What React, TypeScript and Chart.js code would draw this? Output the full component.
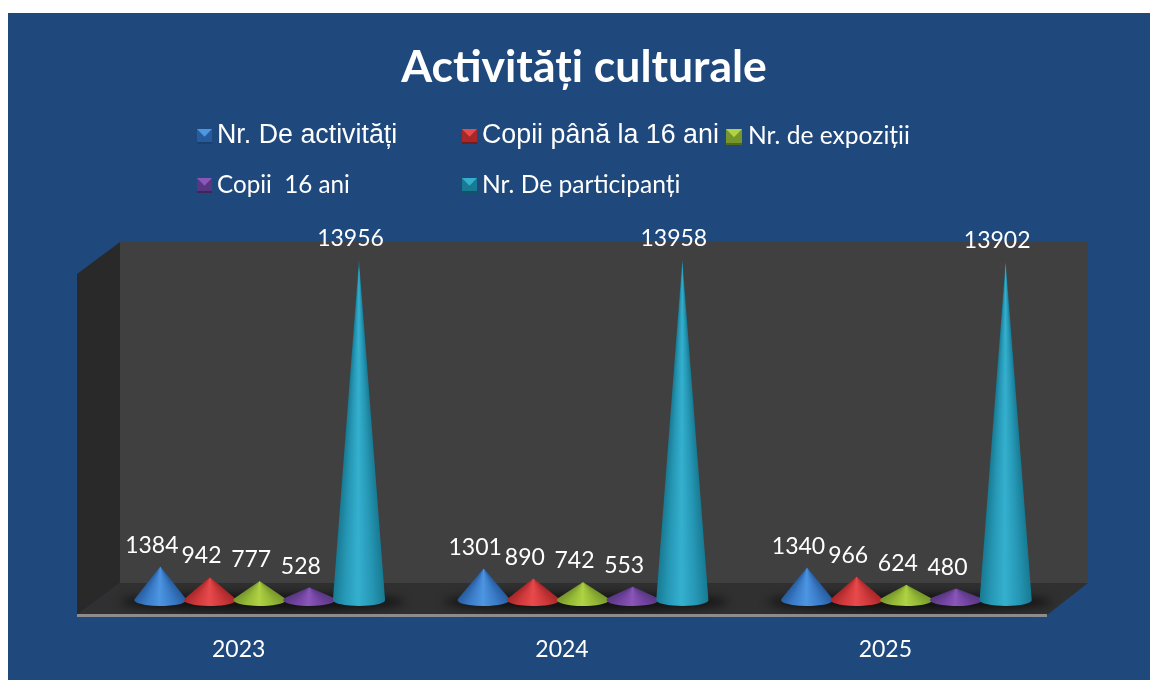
import React, { useEffect, useRef } from "react";
import { Chart, registerables } from "chart.js";

Chart.register(...registerables);

const chartTitle = "Activități culturale";
const categories = ["2023", "2024", "2025"];
const seriesNames = ["Nr. De activități", "Copii până la 16 ani", "Nr. de expoziții", "Copii  16 ani", "Nr. De participanți"];
const activitati = [1384, 1301, 1340];
const copiiPana16 = [942, 890, 966];
const expozitii = [777, 742, 624];
const copii16 = [528, 553, 480];
const participanti = [13956, 13958, 13902];
const seriesValues = [activitati, copiiPana16, expozitii, copii16, participanti];

// edge, middle, highlight
const shades = [
  ["#265c9e", "#3b7cc8", "#4d96e2"],
  ["#a82729", "#d03a3c", "#e84a4c"],
  ["#76962b", "#98bb38", "#b0d244"],
  ["#573781", "#7546a3", "#8b56ba"],
  ["#187a93", "#2698b6", "#34b0ce"],
];
const legendFonts = [
  "26.8px 'Liberation Sans'",
  "26.8px 'Liberation Sans'",
  "24.6px Lato",
  "24.2px Lato",
  "24.6px Lato",
];
const legendCols = [189, 454, 718];
const legendRows = [116, 165];
const legendTextGap = [20, 20, 22, 20, 20];
const legendSlots = [[0, 0], [1, 0], [2, 0], [0, 1], [1, 1]];

const DX = 21;
const DY = -15;
const WALL_LEFT = 43;
const WALL_RIGHT = 41;
const WALL_UP = -32;

function bevel(ctx: CanvasRenderingContext2D, x: number, y: number, s: number, c: string[]) {
  const tri = (pts: number[][], color: string) => {
    ctx.beginPath();
    ctx.moveTo(pts[0][0], pts[0][1]);
    ctx.lineTo(pts[1][0], pts[1][1]);
    ctx.lineTo(pts[2][0], pts[2][1]);
    ctx.closePath();
    ctx.fillStyle = color;
    ctx.fill();
  };
  ctx.fillStyle = c[0];
  ctx.fillRect(x, y, s, s);
  const m = [x + s / 2, y + s * 0.52];
  tri([[x, y], [x, y + s], m], c[0]);
  tri([[x + s, y], [x + s, y + s], m], c[0]);
  tri([[x, y], [x + s, y], m], c[2]);
  ctx.fillStyle = "rgba(0,0,0,0.3)";
  ctx.fillRect(x, y + s - 2, s, 2);
}

const scenePlugin = {
  id: "scene",
  beforeDatasetsDraw(chart: any) {
    const { ctx, chartArea: a } = chart;
    ctx.save();
    const poly = (pts: number[][], color: string) => {
      ctx.beginPath();
      pts.forEach((p, i) => (i ? ctx.lineTo(p[0], p[1]) : ctx.moveTo(p[0], p[1])));
      ctx.closePath();
      ctx.fillStyle = color;
      ctx.fill();
    };
    const bx = a.left + WALL_LEFT;
    const rx = a.right + WALL_RIGHT;
    const by = a.bottom + WALL_UP;
    const tx = a.top + WALL_UP;
    poly([[bx, tx], [rx, tx], [rx, by], [bx, by]], "#404040");
    poly([[a.left, a.top], [bx, tx], [bx, by], [a.left, a.bottom]], "#292929");
    poly([[a.left, a.bottom], [bx, by], [rx, by], [a.right, a.bottom]], "#303030");
    // soft floor shadow of each group
    const first = chart.getDatasetMeta(0).data;
    const last = chart.getDatasetMeta(4).data;
    ctx.filter = "blur(5px)";
    ctx.fillStyle = "rgba(0,0,0,0.62)";
    first.forEach((el: any, i: number) => {
      const l = el.x + DX - 40;
      const r = last[i].x + DX + 46;
      ctx.beginPath();
      ctx.ellipse((l + r) / 2, el.base + DY + 2, (r - l) / 2, 9, 0, 0, Math.PI * 2);
      ctx.fill();
    });
    ctx.filter = "none";
    ctx.fillStyle = "#8c8c8c";
    ctx.fillRect(a.left, a.bottom - 1, a.right - a.left, 3);
    ctx.restore();
  },
  afterDatasetsDraw(chart: any) {
    const { ctx } = chart;
    ctx.save();
    seriesValues.forEach((values, d) => {
      const c = shades[d];
      chart.getDatasetMeta(d).data.forEach((el: any, i: number) => {
        const cx = el.x + DX;
        const baseY = el.base + DY;
        const tipY = el.y + DY;
        const hw = el.width * 0.525;
        const ry = 6;
        const h = baseY - tipY;
        const t0 = h > ry ? Math.asin(-ry / h) : 0;
        const px = hw * Math.cos(t0);
        const py = ry * Math.sin(t0);
        const alpha = Math.atan2(py + h, px);
        const span = (Math.PI - 2 * alpha) / (2 * Math.PI);
        const g = ctx.createConicGradient(alpha, cx, tipY);
        g.addColorStop(0, c[0]);
        g.addColorStop(span * 0.25, c[1]);
        g.addColorStop(span * 0.52, c[2]);
        g.addColorStop(span * 0.78, c[1]);
        g.addColorStop(span, c[0]);
        g.addColorStop(1, c[0]);
        ctx.beginPath();
        ctx.moveTo(cx, tipY);
        ctx.ellipse(cx, baseY, hw, ry, 0, t0, Math.PI - t0, false);
        ctx.closePath();
        ctx.fillStyle = g;
        ctx.fill();
      });
    });
    // value labels
    ctx.font = "23px Lato";
    ctx.fillStyle = "#ffffff";
    ctx.textAlign = "center";
    ctx.textBaseline = "middle";
    seriesValues.forEach((values, d) => {
      chart.getDatasetMeta(d).data.forEach((el: any, i: number) => {
        ctx.fillText(String(values[i]), el.x + DX - 8.5, el.y + DY - 21);
      });
    });
    // legend
    seriesNames.forEach((name, d) => {
      const [col, row] = legendSlots[d];
      const x = legendCols[col];
      const y = legendRows[row];
      bevel(ctx, x, y, col === 2 ? 16 : 15, shades[d]);
      ctx.font = legendFonts[d];
      ctx.fillStyle = "#ffffff";
      ctx.textAlign = "left";
      ctx.textBaseline = "middle";
      ctx.fillText(name, x + legendTextGap[d], y + 7);
    });
    ctx.restore();
  },
  afterLayout(chart: any) {
    // the title sits right of the page centre in the reference
    if (chart.titleBlock) chart.titleBlock.left = chart.titleBlock.left + 44;
  },
};

export default function App() {
  const ref = useRef<HTMLCanvasElement>(null);
  useEffect(() => {
    const chart = new Chart(ref.current!, {
      type: "bar",
      data: {
        labels: categories,
        datasets: seriesValues.map((values, d) => ({
          label: seriesNames[d],
          data: values,
          backgroundColor: "rgba(0,0,0,0)",
          borderWidth: 0,
          barPercentage: 1,
          categoryPercentage: 0.768,
        })),
      },
      options: {
        animation: false,
        responsive: false,
        layout: { padding: { left: 69, right: 103, top: 0, bottom: 0 } },
        plugins: {
          legend: { display: false },
          tooltip: { enabled: false },
          title: {
            display: true,
            text: chartTitle,
            color: "#ffffff",
            font: { family: "Lato", size: 44.5, weight: "bold", lineHeight: 1.2 },
            padding: { top: 28.3, bottom: 179.3 },
          },
        },
        scales: {
          y: { display: false, min: 0, max: 14000 },
          x: {
            grid: { display: false, drawTicks: false },
            border: { display: false },
            afterFit: (s: any) => {
              s.height = 65;
            },
            ticks: {
              color: "#ffffff",
              font: { family: "Lato", size: 23 },
              padding: 21,
              maxRotation: 0,
            },
          },
        },
      },
      plugins: [scenePlugin],
    } as any);
    return () => chart.destroy();
  }, []);
  return (
    <div style={{ position: "absolute", left: 8, top: 13, width: 1142, height: 667, background: "#1f497d", overflow: "hidden" }}>
      <canvas ref={ref} width={1142} height={667} style={{ display: "block" }} />
    </div>
  );
}
